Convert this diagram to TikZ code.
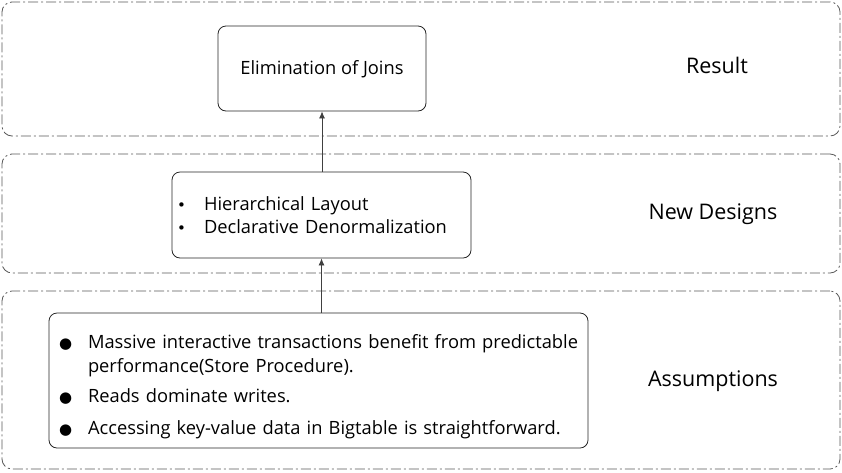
\documentclass[tikz,border=0pt]{standalone}
\usepackage{fontspec}
\setmainfont{Open Sans}
\newfontfamily\dotfont{DejaVu Sans}
\usetikzlibrary{positioning,arrows.meta}
\newcommand{\bigdot}{\makebox[34pt][l]{\hspace{5pt}{\dotfont\fontsize{15}{15}\selectfont ●}}}
\newcommand{\smalldot}{\makebox[28pt][l]{\hspace{1pt}{\dotfont\fontsize{15}{15}\selectfont •}}}
\tikzset{
  layer/.style={draw=black!65, line width=0.8pt, rounded corners=10pt,
    dash pattern=on 10pt off 3pt on 2pt off 3pt, minimum width=838pt},
  stepbox/.style={draw=black!85, line width=0.8pt, rounded corners=8pt},
  layername/.style={font=\fontsize{21.5}{25}\selectfont},
  boxtext/.style={font=\fontsize{18.3}{24}\selectfont},
  uparrow/.style={black!75, line width=0.8pt, -{Latex[length=7pt,width=6pt]}}
}
\begin{document}
\begin{tikzpicture}[x=1pt, y=-1pt]
    \useasboundingbox (0,0) rectangle (842,472);
    % dashed layers
    \node[layer, minimum height=134pt] (resultlayer) at (421,69) {};
    \node[layer, minimum height=119pt] (designlayer) at (421,213.5) {};
    \node[layer, minimum height=178pt] (assumelayer) at (421,380) {};
    \node[layername] (resultname) at (717,65) {Result};
    \node[layername] (designname) at (713,214) {New Designs};
    \node[layername] (assumename) at (713,381) {Assumptions};
    % boxes
    \node[stepbox, boxtext, minimum width=208pt, minimum height=85pt] (joins) at (322,68.5) {\rule{0pt}{15pt}Elimination of Joins};
    \node[stepbox, boxtext, minimum width=299pt, minimum height=86pt, text width=291pt, inner xsep=4pt, align=left] (designs) at (321.5,215)
      {\smalldot Hierarchical Layout\\[-1pt] \smalldot Declarative Denormalization};
    \node[stepbox, boxtext, minimum width=539pt, minimum height=135pt, text width=529pt, inner xsep=5pt, align=left] (assume) at (318.5,380.5)
      {\rule{0pt}{27pt}\bigdot Massive interactive transactions benefit from predictable\\[0pt]
       \hspace*{34pt}performance(Store Procedure).\\[6pt]
       \bigdot Reads dominate writes.\\[8pt]
       \bigdot Accessing key-value data in Bigtable is straightforward.};
    % arrows
    \draw[uparrow] (assume.north -| designs.south) -- (designs.south);
    \draw[uparrow] (designs.north -| joins.south) -- (joins.south);
\end{tikzpicture}
\end{document}
